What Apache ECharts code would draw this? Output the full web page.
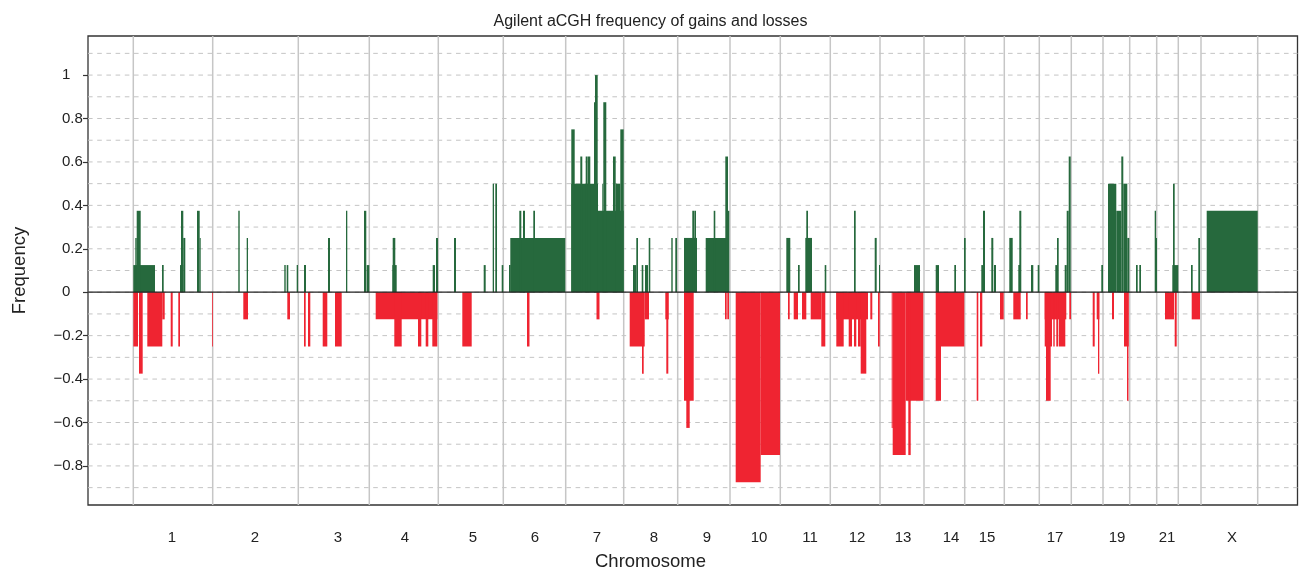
<!DOCTYPE html>
<html>
<head>
<meta charset="utf-8">
<script src="https://cdn.jsdelivr.net/npm/echarts@6/dist/echarts.min.js"></script>
<style>
  html, body { margin: 0; padding: 0; background: #ffffff; }
  #chart { width: 1301px; height: 571px; }
</style>
</head>
<body>
<div id="chart"></div>
<script>
// Genome positions are in a continuous scaled unit, chromosome 1 starting near 0.
const chromosomeBounds = [0.3, 79.7, 165.3, 236.3, 305.3, 370.3, 432.7, 490.7, 544.7, 597, 647.3, 697.3,
  747, 791, 831.7, 871.3, 906.3, 938.3, 970, 996.7, 1023.7, 1045.3, 1068, 1124.7];

const chromosomeLabels = ['1', '2', '3', '4', '5', '6', '7', '8', '9', '10', '11', '12', '13', '14', '15',
  '17', '19', '21', 'X'];
const chromosomeLabelPos = [39, 122, 205, 272, 340, 402, 464, 521, 574, 626, 677, 724, 770, 818, 854,
  922, 984, 1034, 1099];

const yTickValues = [-0.8, -0.6, -0.4, -0.2, 0, 0.2, 0.4, 0.6, 0.8, 1];
const yTickLabels = ['\u22120.8', '\u22120.6', '\u22120.4', '\u22120.2', '0', '0.2', '0.4', '0.6', '0.8', '1'];

// Segments: [start, end, frequency]
const gains = [
  // chr1
  [0.3, 22, 0.125], [2.3, 3.7, 0.25], [3.7, 7.7, 0.375], [29, 30.7, 0.125], [47, 50.3, 0.125],
  [48, 50.3, 0.375], [50.3, 52.3, 0.25], [64, 66.7, 0.375], [66.7, 67.7, 0.25],
  // chr2
  [105.3, 106.7, 0.375], [113.7, 115, 0.25], [151.3, 152.7, 0.125], [153.7, 155.3, 0.125], [163.7, 165, 0.125],
  // chr3
  [171, 173, 0.125], [195, 197, 0.25], [213, 214.3, 0.375], [231, 233.3, 0.375], [233.7, 236.3, 0.125],
  // chr4
  [259.3, 263.7, 0.125], [259.7, 262.3, 0.25], [299.7, 302, 0.125], [303, 305, 0.25],
  // chr5
  [321, 323, 0.25], [350.7, 352.7, 0.125], [359.7, 361, 0.5], [362.3, 364, 0.5], [368.7, 370.3, 0.125],
  // chr6
  [376, 377.7, 0.125], [377.3, 432.3, 0.25], [386.3, 388.3, 0.375], [390, 392, 0.375], [400.3, 402, 0.375],
  // chr7
  [438.3, 465, 0.5], [438.3, 441.7, 0.75], [447.3, 449.3, 0.625], [452.7, 454.7, 0.625], [455, 457.3, 0.625],
  [461, 462, 0.875], [462, 464.7, 1], [465, 490.7, 0.375], [469.3, 470.3, 0.5], [470.3, 473.3, 0.875],
  [480, 482.7, 0.625], [482.7, 487.3, 0.5], [487.3, 490.7, 0.75],
  // chr8
  [500, 503.3, 0.125], [503.3, 505, 0.25], [508.7, 510.3, 0.125], [512, 515, 0.125], [515.7, 517.3, 0.25],
  [538.3, 539.7, 0.25], [542.3, 544, 0.25],
  // chr9
  [551, 564, 0.25], [559.3, 561, 0.375], [561.3, 563, 0.375], [572.7, 595.3, 0.25], [580.7, 582.3, 0.375],
  [592.3, 595, 0.625], [594.3, 596.3, 0.375],
  // chr11
  [653.3, 657.3, 0.25], [665, 666.7, 0.125], [672.3, 679, 0.25], [673.3, 675, 0.375], [691.7, 693.3, 0.125],
  // chr12
  [721, 722.7, 0.375], [741.7, 743.7, 0.25], [746, 747, 0.125],
  // chr13
  [781, 787, 0.125],
  // chr14
  [802.7, 806, 0.125], [821.3, 823, 0.125], [831, 832.7, 0.25],
  // chr15
  [848.3, 850.3, 0.125], [850, 852, 0.375], [858.3, 860.3, 0.25], [861, 863, 0.125],
  // chr16
  [876.3, 879.7, 0.25], [885.3, 887, 0.125], [886.3, 888.3, 0.375], [898, 900.3, 0.125], [904.7, 906.3, 0.125],
  // chr17
  [922.3, 925, 0.125], [924, 925.7, 0.25], [931.7, 933.7, 0.125], [933.7, 935.7, 0.375], [935.7, 937.7, 0.625],
  // chr18
  [968.3, 970, 0.125],
  // chr19
  [975, 983.3, 0.5], [983.3, 988.3, 0.375], [988.3, 990.3, 0.625], [990.3, 994.3, 0.5], [994.3, 996.3, 0.25],
  // chr20
  [1003, 1004.7, 0.125], [1006.3, 1008, 0.125], [1021.7, 1023, 0.375], [1023, 1024, 0.25],
  // chr21
  [1039.3, 1045.3, 0.125], [1040, 1041.7, 0.5],
  // chr22
  [1058, 1059.7, 0.125], [1065.3, 1067, 0.25],
  // chrX
  [1073.7, 1124.7, 0.375]
];

const losses = [
  // chr1
  [0.3, 5, -0.25], [6, 9.7, -0.375], [14.3, 29.3, -0.25], [29.3, 31.7, -0.125], [37.7, 39.7, -0.25],
  [45.3, 47, -0.25], [79, 79.8, -0.25],
  // chr2
  [110.3, 115, -0.125], [154.3, 157, -0.125],
  // chr3
  [171, 172.7, -0.25], [175, 177.3, -0.25], [189.7, 194.3, -0.25], [202, 208.7, -0.25],
  // chr4
  [242.7, 304.3, -0.125], [261.3, 268.7, -0.25], [285, 288.3, -0.25], [292.7, 295.3, -0.25], [299.3, 304.3, -0.25],
  // chr5
  [329.3, 338.7, -0.25],
  // chr6
  [394, 396.5, -0.25],
  // chr7
  [463.5, 466.5, -0.125],
  // chr8
  [496.7, 511.7, -0.25], [509, 510.7, -0.375], [511.7, 516, -0.125], [532.3, 535.7, -0.125], [533.3, 535.3, -0.375],
  // chr9
  [551, 560.7, -0.5], [553.3, 556.7, -0.625], [592, 593.7, -0.125], [594.3, 596, -0.125],
  // chr10
  [602.7, 627.7, -0.875], [627.7, 647, -0.75],
  // chr11
  [655, 656.7, -0.125], [660.7, 665, -0.125], [669, 673.3, -0.125], [677.7, 688.3, -0.125], [688.3, 692.3, -0.25],
  // chr12
  [703.3, 735, -0.125], [703.3, 710.7, -0.25], [715.7, 719, -0.25], [721, 723.3, -0.25], [725, 727.7, -0.25],
  [727.7, 733.3, -0.375], [737.3, 739.3, -0.125], [745, 746.7, -0.25],
  // chr13
  [758.7, 759.7, -0.625], [759.7, 772.7, -0.75], [772.7, 790.3, -0.5], [775.3, 777.7, -0.75],
  // chr14
  [802.7, 808, -0.5], [808, 831.3, -0.25],
  // chr15
  [843.7, 845.3, -0.5], [847, 849.3, -0.25], [867, 870.7, -0.125],
  // chr16
  [880.3, 887.7, -0.125], [893, 894.7, -0.125],
  // chr17
  [911.7, 933.3, -0.125], [911.7, 919, -0.25], [913, 917.7, -0.5], [920.3, 921.7, -0.25], [923.3, 925, -0.25],
  [925.7, 932.3, -0.25], [936.3, 938, -0.125],
  // chr18
  [959.7, 961.7, -0.25], [963.7, 966.3, -0.125], [965, 966.3, -0.375],
  // chr19
  [979, 981, -0.125], [991, 995.7, -0.25], [994, 995.5, -0.5],
  // chr21
  [1032, 1041, -0.125], [1041.7, 1043.7, -0.25],
  // chr22
  [1058.7, 1067, -0.125]
];

const GAIN_COLOR = '#26693d';
const LOSS_COLOR = '#ef2431';
const FONT = '"Liberation Sans", Arial, Helvetica, sans-serif';
const TEXT_COLOR = '#222';

// dashed reference levels every 0.1 from -0.9 to 1.1
const dashLevels = [];
for (let i = -9; i <= 11; i++) dashLevels.push([0, i / 10]);

// non-negative labels are left-aligned on the digits, negative ones hang their minus sign to the left
const posTickValues = yTickValues.filter(function (v) { return v >= 0; });
const negTickValues = yTickValues.filter(function (v) { return v < 0; });
function tickLabel(v) { return yTickLabels[yTickValues.indexOf(v)]; }

function segmentRenderer(color) {
  return function (params, api) {
    const a = api.coord([api.value(0), 0]);
    const b = api.coord([api.value(1), api.value(2)]);
    const x = Math.min(a[0], b[0]);
    const w = Math.max(Math.abs(b[0] - a[0]), 0.7);
    const y = Math.min(a[1], b[1]);
    const h = Math.abs(b[1] - a[1]);
    return { type: 'rect', shape: { x: x, y: y, width: w, height: h }, style: { fill: color } };
  };
}

const chart = echarts.init(document.getElementById('chart'), null, { renderer: 'canvas' });

chart.setOption({
  animation: false,
  backgroundColor: '#ffffff',
  textStyle: { fontFamily: FONT },
  title: [
    {
      text: 'Agilent aCGH frequency of gains and losses',
      left: 'center',
      top: 9,
      textStyle: { fontFamily: FONT, fontSize: 16, fontWeight: 'normal', color: TEXT_COLOR }
    },
    {
      text: 'Chromosome',
      left: 'center',
      top: 547,
      textStyle: { fontFamily: FONT, fontSize: 18.5, fontWeight: 'normal', color: TEXT_COLOR }
    }
  ],
  grid: {
    left: 88, top: 36, right: 3.5, bottom: 66,
    show: true, borderColor: '#333', borderWidth: 1.3, backgroundColor: 'transparent'
  },
  xAxis: {
    type: 'value',
    min: -45,
    max: 1164.5,
    axisLine: { show: false, onZero: false },
    axisTick: { show: false },
    splitLine: { show: false },
    axisLabel: {
      customValues: chromosomeLabelPos,
      formatter: function (v) { return chromosomeLabels[chromosomeLabelPos.indexOf(v)]; },
      margin: 25,
      fontFamily: FONT,
      fontSize: 15,
      color: TEXT_COLOR
    }
  },
  yAxis: [
    {
      type: 'value',
      position: 'left',
      min: -0.98,
      max: 1.18,
      name: 'Frequency',
      nameLocation: 'middle',
      nameGap: 59,
      nameTextStyle: { fontFamily: FONT, fontSize: 18.5, color: TEXT_COLOR },
      axisLine: { show: false, onZero: false },
      splitLine: { show: false },
      axisTick: {
        show: true,
        customValues: yTickValues,
        length: 5,
        lineStyle: { color: '#333', width: 1.2 }
      },
      axisLabel: {
        customValues: posTickValues,
        formatter: tickLabel,
        align: 'left',
        margin: 26,
        fontFamily: FONT,
        fontSize: 15,
        color: TEXT_COLOR
      }
    },
    {
      type: 'value',
      position: 'left',
      min: -0.98,
      max: 1.18,
      axisLine: { show: false, onZero: false },
      splitLine: { show: false },
      axisTick: { show: false },
      axisLabel: {
        customValues: negTickValues,
        formatter: tickLabel,
        align: 'right',
        margin: 5,
        fontFamily: FONT,
        fontSize: 15,
        color: TEXT_COLOR
      }
    }
  ],
  series: [
    {
      // dashed horizontal reference lines
      type: 'custom',
      z: 1,
      silent: true,
      data: dashLevels,
      encode: { x: 0, y: 1 },
      renderItem: function (params, api) {
        const p = api.coord([0, api.value(1)]);
        const cs = params.coordSys;
        return {
          type: 'line',
          shape: { x1: cs.x, y1: p[1], x2: cs.x + cs.width, y2: p[1] },
          style: { stroke: '#c4c4c4', lineWidth: 1, lineDash: [4.6, 4.6] }
        };
      }
    },
    {
      // chromosome boundaries
      type: 'custom',
      z: 1,
      silent: true,
      data: chromosomeBounds.map(function (v) { return [v, 0]; }),
      encode: { x: 0, y: 1 },
      renderItem: function (params, api) {
        const p = api.coord([api.value(0), 0]);
        const cs = params.coordSys;
        return {
          type: 'line',
          shape: { x1: p[0], y1: cs.y, x2: p[0], y2: cs.y + cs.height },
          style: { stroke: '#c6c6c6', lineWidth: 1.5 }
        };
      }
    },
    {
      name: 'Gains',
      type: 'custom',
      z: 2,
      clip: true,
      data: gains,
      encode: { x: [0, 1], y: 2 },
      renderItem: segmentRenderer(GAIN_COLOR)
    },
    {
      name: 'Losses',
      type: 'custom',
      z: 2,
      clip: true,
      data: losses,
      encode: { x: [0, 1], y: 2 },
      renderItem: segmentRenderer(LOSS_COLOR)
    },
    {
      // zero baseline
      type: 'custom',
      z: 3,
      silent: true,
      data: [[0, 0]],
      encode: { x: 0, y: 1 },
      renderItem: function (params, api) {
        const p = api.coord([0, 0]);
        const cs = params.coordSys;
        return {
          type: 'line',
          shape: { x1: cs.x, y1: p[1], x2: cs.x + cs.width, y2: p[1] },
          style: { stroke: '#222', lineWidth: 1.3 }
        };
      }
    }
  ]
});
</script>
</body>
</html>
